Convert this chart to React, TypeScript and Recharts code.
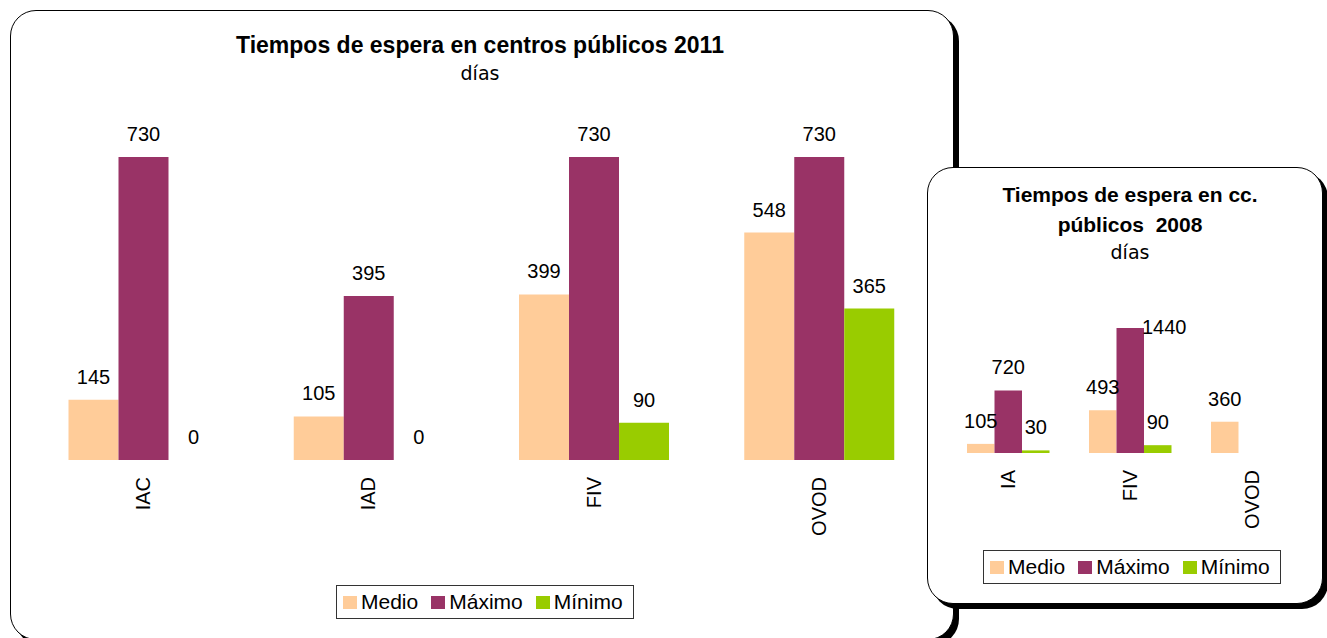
import React from 'react';
import { BarChart, Bar, XAxis, YAxis, Legend, LabelList } from 'recharts';

// 2011 chart
const categories2011 = ['IAC', 'IAD', 'FIV', 'OVOD'];
const medio2011 = [145, 105, 399, 548];
const maximo2011 = [730, 395, 730, 730];
const minimo2011 = [0, 0, 90, 365];

// 2008 chart
const categories2008 = ['IA', 'FIV', 'OVOD'];
const medio2008 = [105, 493, 360];
const maximo2008 = [720, 1440, null];
const minimo2008 = [30, 90, null];

const data2011 = categories2011.map((name, i) => ({
  name,
  medio: medio2011[i],
  maximo: maximo2011[i],
  minimo: minimo2011[i],
}));

const data2008 = categories2008.map((name, i) => ({
  name,
  medio: medio2008[i],
  maximo: maximo2008[i],
  minimo: minimo2008[i],
}));

const FONT = '"Liberation Sans", Arial, sans-serif';
const COLORS = { medio: '#FFCC99', maximo: '#993366', minimo: '#99CC00' };

const VerticalTick = (props: any) => {
  const { x, y, payload } = props;
  const ty = y + 17;
  return (
    <text
      x={x}
      y={ty}
      transform={`rotate(-90 ${x} ${ty})`}
      textAnchor="end"
      dominantBaseline="central"
      fontFamily={FONT}
      fontSize={20}
      fill="#000"
    >
      {payload.value}
    </text>
  );
};

// value label above the bar; dx/dy lets one label be nudged like in the original
const makeLabel = (shift?: (index: number) => [number, number]) => (props: any) => {
  const { x, y, width, height, value, index } = props;
  if (value === null || value === undefined) return null;
  const [dx, dy] = shift ? shift(index) : [0, 0];
  const top = height < 0 ? y + height : y;
  return (
    <text
      x={x + width / 2 + dx}
      y={top - 16 + dy}
      textAnchor="middle"
      fontFamily={FONT}
      fontSize={20}
      fill="#000"
    >
      {value}
    </text>
  );
};

const plainLabel = makeLabel();
const maxLabel2008 = makeLabel((i) => (i === 1 ? [34, 22] : [0, 0]));

const BoxLegend = (props: any) => {
  const { payload } = props;
  return (
    <div
      style={{
        display: 'flex',
        width: 'fit-content',
        alignItems: 'center',
        height: 34,
        boxSizing: 'border-box',
        border: '1px solid #333',
        background: '#fff',
        padding: '0 10px 0 6px',
        fontFamily: FONT,
        fontSize: 21,
        color: '#000',
        lineHeight: '24px',
      }}
    >
      {(payload || []).map((p: any, i: number) => (
        <span
          key={p.value}
          style={{ display: 'flex', alignItems: 'center', marginLeft: i === 0 ? 0 : 13 }}
        >
          <span style={{ width: 14, height: 13, background: p.color, marginRight: 4 }} />
          {p.value}
        </span>
      ))}
    </div>
  );
};

const App: React.FC = () => {
  return (
    <div
      style={{
        position: 'absolute',
        left: 0,
        top: 0,
        width: 1327,
        height: 638,
        overflow: 'hidden',
        background: '#fff',
      }}
    >
      {/* big frame */}
      <div
        style={{
          position: 'absolute',
          left: 10,
          top: 10,
          width: 944,
          height: 630,
          boxSizing: 'border-box',
          border: '1px solid #000',
          borderRadius: 26,
          boxShadow: '5px 5px 0 #000',
          background: '#fff',
        }}
      />
      <div
        style={{
          position: 'absolute',
          left: 80,
          width: 800,
          top: 32,
          textAlign: 'center',
          fontFamily: FONT,
          fontWeight: 'bold',
          fontSize: 23,
          lineHeight: '26px',
        }}
      >
        Tiempos de espera en centros públicos 2011
      </div>
      <div
        style={{
          position: 'absolute',
          left: 80,
          width: 800,
          top: 62,
          textAlign: 'center',
          fontFamily: '"DejaVu Sans", sans-serif',
          fontSize: 19,
          lineHeight: '22px',
        }}
      >
        días
      </div>
      <div style={{ position: 'absolute', left: 0, top: 0 }}>
        <BarChart
          width={960}
          height={638}
          data={data2011}
          margin={{ top: 128, right: 28.5, left: 30.5, bottom: 44 }}
          barGap={0}
        >
          <XAxis
            dataKey="name"
            axisLine={false}
            tickLine={false}
            tickSize={0}
            tickMargin={0}
            height={100}
            interval={0}
            tick={<VerticalTick />}
          />
          <YAxis hide domain={[0, 800]} />
          <Legend
            content={<BoxLegend />}
            verticalAlign="bottom"
            wrapperStyle={{ left: 336, top: 585, bottom: 'auto', width: 'auto' }}
          />
          <Bar dataKey="medio" name="Medio" fill={COLORS.medio} barSize={50} isAnimationActive={false}>
            <LabelList dataKey="medio" content={plainLabel} />
          </Bar>
          <Bar dataKey="maximo" name="Máximo" fill={COLORS.maximo} barSize={50} isAnimationActive={false}>
            <LabelList dataKey="maximo" content={plainLabel} />
          </Bar>
          <Bar
            dataKey="minimo"
            name="Mínimo"
            fill={COLORS.minimo}
            barSize={50}
            minPointSize={0.01}
            isAnimationActive={false}
          >
            <LabelList dataKey="minimo" content={plainLabel} />
          </Bar>
        </BarChart>
      </div>

      {/* small frame */}
      <div
        style={{
          position: 'absolute',
          left: 927,
          top: 167,
          width: 396,
          height: 437,
          boxSizing: 'border-box',
          border: '1px solid #000',
          borderRadius: 26,
          boxShadow: '5px 5px 0 #000',
          background: '#fff',
        }}
      />
      <div
        style={{
          position: 'absolute',
          left: 930,
          width: 400,
          top: 180,
          textAlign: 'center',
          fontFamily: FONT,
          fontWeight: 'bold',
          fontSize: 21,
          lineHeight: '30px',
          whiteSpace: 'pre',
        }}
      >
        <div>Tiempos de espera en cc.</div>
        <div>públicos  2008</div>
      </div>
      <div
        style={{
          position: 'absolute',
          left: 930,
          width: 400,
          top: 241,
          textAlign: 'center',
          fontFamily: '"DejaVu Sans", sans-serif',
          fontSize: 19,
          lineHeight: '22px',
        }}
      >
        días
      </div>
      <div style={{ position: 'absolute', left: 928, top: 168 }}>
        <BarChart
          width={399}
          height={440}
          data={data2008}
          margin={{ top: 146, right: 14, left: 19, bottom: 41 }}
          barGap={0}
        >
          <XAxis
            dataKey="name"
            axisLine={false}
            tickLine={false}
            tickSize={0}
            tickMargin={0}
            height={80}
            interval={0}
            tick={<VerticalTick />}
          />
          <YAxis hide domain={[0, 1600]} />
          <Legend
            content={<BoxLegend />}
            verticalAlign="bottom"
            wrapperStyle={{ left: 55, top: 382, bottom: 'auto', width: 'auto' }}
          />
          <Bar dataKey="medio" name="Medio" fill={COLORS.medio} barSize={27.5} isAnimationActive={false}>
            <LabelList dataKey="medio" content={plainLabel} />
          </Bar>
          <Bar dataKey="maximo" name="Máximo" fill={COLORS.maximo} barSize={27.5} isAnimationActive={false}>
            <LabelList dataKey="maximo" content={maxLabel2008} />
          </Bar>
          <Bar dataKey="minimo" name="Mínimo" fill={COLORS.minimo} barSize={27.5} isAnimationActive={false}>
            <LabelList dataKey="minimo" content={plainLabel} />
          </Bar>
        </BarChart>
      </div>
    </div>
  );
};

export default App;
